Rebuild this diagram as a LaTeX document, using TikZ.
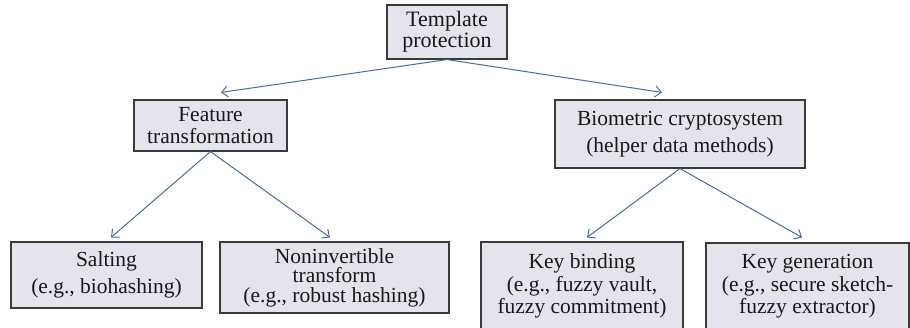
\documentclass[tikz,border=0pt]{standalone}
\usepackage{fontspec}
\setmainfont{Liberation Serif}
\usetikzlibrary{arrows.meta}
\definecolor{boxfill}{HTML}{E3E4EC}
\definecolor{boxline}{HTML}{3A3A3A}
\definecolor{arrowcol}{HTML}{4A6C9E}
\begin{document}
\begin{tikzpicture}[x=1pt,y=-1pt,
  box/.style={draw=boxline, fill=boxfill, line width=1.1pt, align=center, inner sep=0pt, text=black!90},
  conn/.style={draw=arrowcol, line width=1pt, -{Straight Barb[length=6pt,width=11pt,line width=1pt]}}]
\clip (0,0) rectangle (910,327);
\fill[white] (0,0) rectangle (910,327);
\node[box, minimum width=120pt, minimum height=54pt, font=\fontsize{22}{21}\selectfont] (top) at (447,32) {Template\\protection};
\node[box, minimum width=153pt, minimum height=51pt, font=\fontsize{21.5}{22.7}\selectfont] (feat) at (210.5,125.5) {Feature\\transformation};
\node[box, minimum width=250pt, minimum height=68pt, font=\fontsize{21.5}{27}\selectfont] (bio) at (680,134) {Biometric cryptosystem\\(helper data methods)};
\node[box, minimum width=191pt, minimum height=66pt, font=\fontsize{21.5}{27.6}\selectfont] (salt) at (106.5,275) {Salting\\(e.g., biohashing)};
\node[box, minimum width=229pt, minimum height=71pt, font=\fontsize{21.5}{19.5}\selectfont] (noninv) at (334.5,277.5) {Noninvertible\\transform\\(e.g., robust hashing)};
\node[box, minimum width=202pt, minimum height=88pt, font=\fontsize{21.5}{22.5}\selectfont] (keyb) at (582,286) {Key binding\\(e.g., fuzzy vault,\\fuzzy commitment)};
\node[box, minimum width=203pt, minimum height=87pt, font=\fontsize{21.5}{22.5}\selectfont] (keyg) at (807.5,286.5) {Key generation\\(e.g., secure sketch-\\fuzzy extractor)};
\draw[conn] (top.south) -- ([xshift=10.5pt,yshift=7pt]feat.north);
\draw[conn] (top.south) -- ([xshift=-18pt,yshift=7pt]bio.north);
\draw[conn] (feat.south) -- ([xshift=4.5pt,yshift=4pt]salt.north);
\draw[conn] (feat.south) -- ([xshift=-4.5pt,yshift=4pt]noninv.north);
\draw[conn] (bio.south) -- ([xshift=5pt,yshift=4pt]keyb.north);
\draw[conn] (bio.south) -- ([xshift=-5.5pt,yshift=5pt]keyg.north);
\end{tikzpicture}
\end{document}
